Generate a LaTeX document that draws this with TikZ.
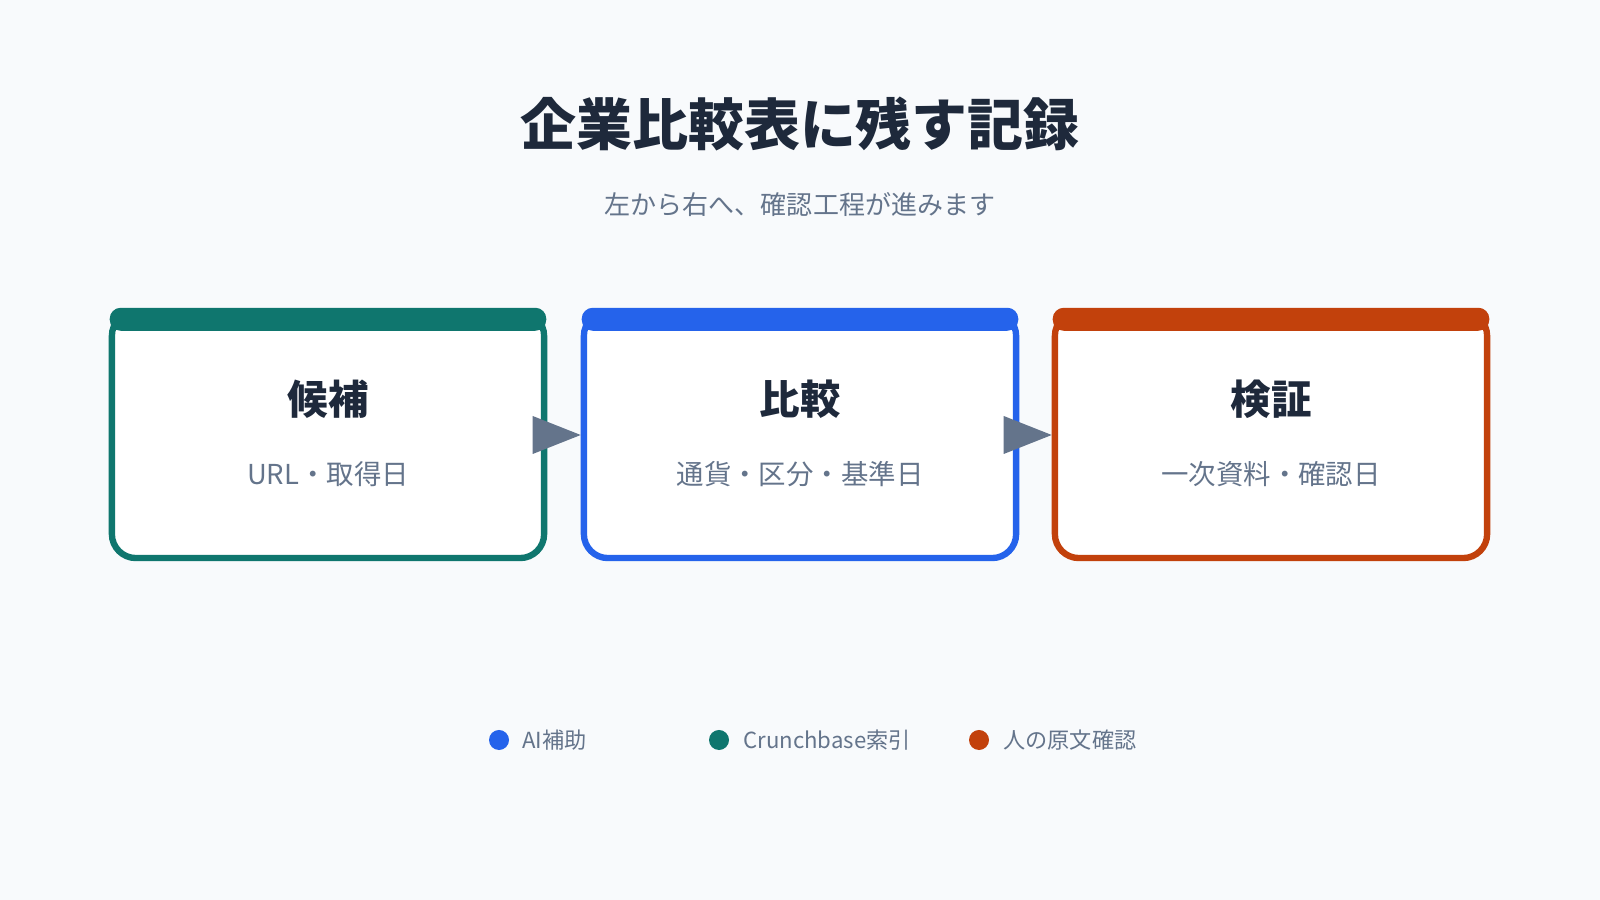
\documentclass[tikz,border=0pt]{standalone}
\usepackage{fontspec}
\setmainfont{Noto Sans CJK JP}
\usetikzlibrary{positioning,calc}
\definecolor{bgc}{HTML}{F8FAFC}
\definecolor{inkc}{HTML}{1E293B}
\definecolor{grayc}{HTML}{64748B}
\definecolor{tealc}{HTML}{0F766E}
\definecolor{bluec}{HTML}{2563EB}
\definecolor{orangec}{HTML}{C2410C}
\tikzset{
  stage/.style={draw=#1, line width=1.8pt, fill=white, rounded corners=0.24cm,
    minimum width=4.32cm, minimum height=2.46cm, inner sep=0},
  head/.style={fill=#1, rounded corners=0.11cm},
  stitle/.style={font=\fontsize{11.5}{13}\selectfont\bfseries, text=inkc},
  ssub/.style={font=\fontsize{7.8}{9}\selectfont, text=grayc},
  dot/.style={circle, fill=#1, minimum size=0.2cm, inner sep=0},
  legend/.style={font=\fontsize{6.3}{8}\selectfont, text=grayc, anchor=west}
}
\begin{document}
\begin{tikzpicture}[x=0.01cm, y=0.01cm]
    \fill[bgc] (0,0) rectangle (1600,900);
    \useasboundingbox (0,0) rectangle (1600,900);

    % Title
    \node[font=\fontsize{15.9}{18}\selectfont\bfseries, text=inkc] (title) at (800,776) {企業比較表に残す記録};
    \node[font=\fontsize{7.4}{9}\selectfont, text=grayc] (subtitle) at (800,695) {左から右へ、確認工程が進みます};

    % Stages
    \node[stage=tealc] (cand) at (328,465) {};
    \node[stage=bluec] (cmp) at (800,465) {};
    \node[stage=orangec] (chk) at (1271,465) {};
    \foreach \n/\c in {cand/tealc, cmp/bluec, chk/orangec}{
      \fill[head=\c] ($(\n.north west)+(1,1)$) rectangle ($(\n.north east)+(-1,-22)$);
    }

    \node[stitle] (candt) at (328,501) {候補};
    \node[stitle] (cmpt) at (800,501) {比較};
    \node[stitle] (chkt) at (1271,501) {検証};
    \node[ssub] (cands) at (328,426) {URL・取得日};
    \node[ssub] (cmps) at (800,426) {通貨・区分・基準日};
    \node[ssub] (chks) at (1271,426) {一次資料・確認日};

    % Arrows
    \fill[grayc] (cmp.west) -- ++(-48,19) -- ++(0,-38) -- cycle;
    \fill[grayc] (chk.west) -- ++(-48,19) -- ++(0,-38) -- cycle;

    % Legend
    \node[dot=bluec] (d1) at (499,160) {};
    \node[legend] (l1) at (510,160) {AI補助};
    \node[dot=tealc] (d2) at (719,160) {};
    \node[legend] (l2) at (731,160) {Crunchbase索引};
    \node[dot=orangec] (d3) at (979,160) {};
    \node[legend] (l3) at (991,160) {人の原文確認};
\end{tikzpicture}
\end{document}
